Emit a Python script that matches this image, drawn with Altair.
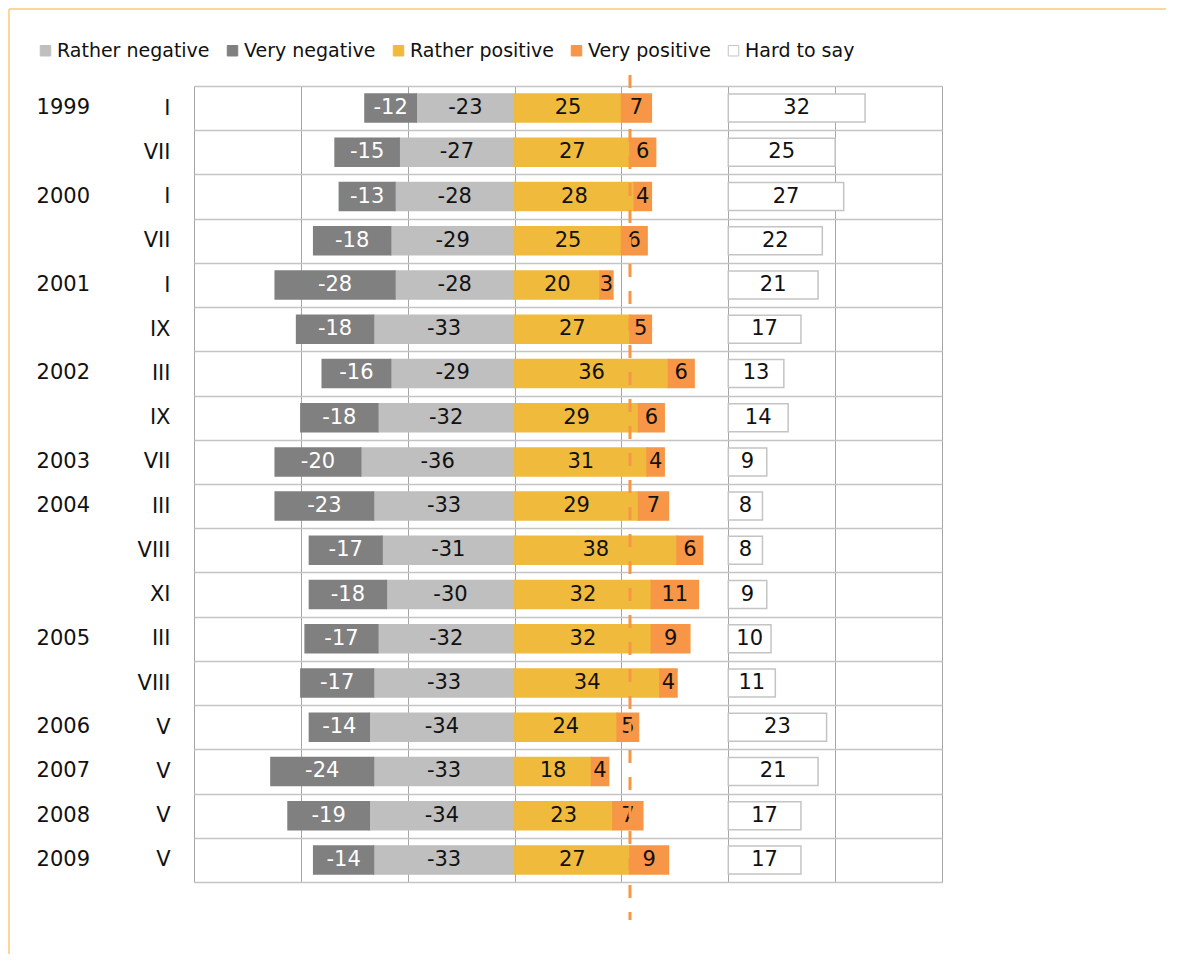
import altair as alt
import pandas as pd

# ---- data ----
years = ["1999", "", "2000", "", "2001", "", "2002", "", "2003", "2004", "", "", "2005", "", "2006", "2007", "2008", "2009"]
months = ["I", "VII", "I", "VII", "I", "IX", "III", "IX", "VII", "III", "VIII", "XI", "III", "VIII", "V", "V", "V", "V"]
very_negative = [12, 15, 13, 18, 28, 18, 16, 18, 20, 23, 17, 18, 17, 17, 14, 24, 19, 14]
rather_negative = [23, 27, 28, 29, 28, 33, 29, 32, 36, 33, 31, 30, 32, 33, 34, 33, 34, 33]
rather_positive = [25, 27, 28, 25, 20, 27, 36, 29, 31, 29, 38, 32, 32, 34, 24, 18, 23, 27]
very_positive = [7, 6, 4, 6, 3, 5, 6, 6, 4, 7, 6, 11, 9, 4, 5, 4, 7, 9]
hard_to_say = [32, 25, 27, 22, 21, 17, 13, 14, 9, 8, 8, 9, 10, 11, 23, 21, 17, 17]

series_names = ["Rather negative", "Very negative", "Rather positive", "Very positive", "Hard to say"]
series_fill = ["#BFBFBF", "#808080", "#F0BB3C", "#F79646", "#FFFFFF"]
series_stroke = ["#BFBFBF", "#808080", "#F0BB3C", "#F79646", "#C4C4C4"]
hard_to_say_start = 50
reference_line = 27
x_ticks = [-75, -50, -25, 0, 25, 50, 75, 100]

FONT = "DejaVu Sans"

# ---- build long table ----
keys = []
rows = []
year_rows = []
for i in range(len(months)):
    key = f"{i:02d}|{months[i]}"
    keys.append(key)
    rn, vn, rp, vp, hs = rather_negative[i], very_negative[i], rather_positive[i], very_positive[i], hard_to_say[i]
    rows.append(dict(key=key, series="Rather negative", start=-rn, end=0, label=f"-{rn}"))
    rows.append(dict(key=key, series="Very negative", start=-(rn + vn), end=-rn, label=f"-{vn}"))
    rows.append(dict(key=key, series="Rather positive", start=0, end=rp, label=f"{rp}"))
    rows.append(dict(key=key, series="Very positive", start=rp, end=rp + vp, label=f"{vp}"))
    rows.append(dict(key=key, series="Hard to say", start=hard_to_say_start, end=hard_to_say_start + hs, label=f"{hs}"))
    if years[i]:
        year_rows.append(dict(key=key, year=years[i]))

df = pd.DataFrame(rows)
df["mid"] = (df["start"] + df["end"]) / 2
ydf = pd.DataFrame(year_rows)

W, H = 748, 796

xscale = alt.Scale(domain=[-75, 100], nice=False, zero=False)
yscale = alt.Scale(domain=keys, paddingInner=0, paddingOuter=0)

legend = alt.Legend(
    title=None, orient="none", legendX=-158, legendY=-45, direction="horizontal",
    symbolType="square", symbolSize=110, symbolStrokeWidth=1, labelFont=FONT,
    labelFontSize=19, labelColor="#111111", labelOffset=2, columnPadding=13, padding=0,
)

base = alt.Chart(df)

x_enc = alt.X("start:Q", scale=xscale,
              axis=alt.Axis(values=x_ticks, grid=True, labels=False, ticks=False, domain=False,
                            title=None, gridColor="#A6A6A6", gridWidth=1))
y_enc = alt.Y("key:N", scale=yscale, sort=keys,
              axis=alt.Axis(title=None, ticks=False, domain=False, grid=True, tickBand="extent",
                            gridColor="#C4C4C4", gridWidth=1.5, labelFont=FONT, labelFontSize=21,
                            labelColor="#111111", labelPadding=24,
                            labelExpr="split(datum.label, '|')[1]"))

bars = base.mark_bar(size=28, strokeWidth=1.5).encode(
    x=x_enc,
    x2="end:Q",
    y=y_enc,
    fill=alt.Fill("series:N", scale=alt.Scale(domain=series_names, range=series_fill), legend=legend),
    stroke=alt.Stroke("series:N", scale=alt.Scale(domain=series_names, range=series_stroke), legend=legend),
)

labels = base.mark_text(font=FONT, fontSize=21, baseline="middle", align="center").encode(
    x=alt.X("mid:Q", scale=xscale),
    y=alt.Y("key:N", scale=yscale, sort=keys),
    text="label:N",
    color=alt.condition(alt.datum.series == "Very negative", alt.value("#FFFFFF"), alt.value("#111111")),
)

year_labels = alt.Chart(ydf).mark_text(font=FONT, fontSize=21, baseline="middle", align="right",
                                       color="#111111").encode(
    x=alt.value(-104),
    y=alt.Y("key:N", scale=yscale, sort=keys),
    text="year:N",
)

ref = alt.Chart(pd.DataFrame({"v": [reference_line]})).mark_rule(
    color="#F79646", strokeWidth=3, strokeDash=[13, 14]
).encode(
    x=alt.X("v:Q", scale=xscale),
    y=alt.value(-11),
    y2=alt.value(H + 38),
)

frame_top = alt.Chart(pd.DataFrame({"v": [0]})).mark_rule(color="#FFC978", strokeWidth=1.5).encode(
    x=alt.value(-185), x2=alt.value(W + 224), y=alt.value(-77)
)
frame_left = alt.Chart(pd.DataFrame({"v": [0]})).mark_rule(color="#FFC978", strokeWidth=1.5).encode(
    x=alt.value(-185), y=alt.value(-77), y2=alt.value(H + 72)
)

chart = alt.layer(bars, labels, year_labels, ref, frame_top, frame_left).properties(
    width=W, height=H,
    autosize=alt.AutoSizeParams(type="none"),
    padding={"left": 186, "top": 78, "right": 224, "bottom": 72},
).configure_view(stroke=None).configure(background="white")

chart.save("out.html", embed_options={"renderer": "svg", "actions": False})
